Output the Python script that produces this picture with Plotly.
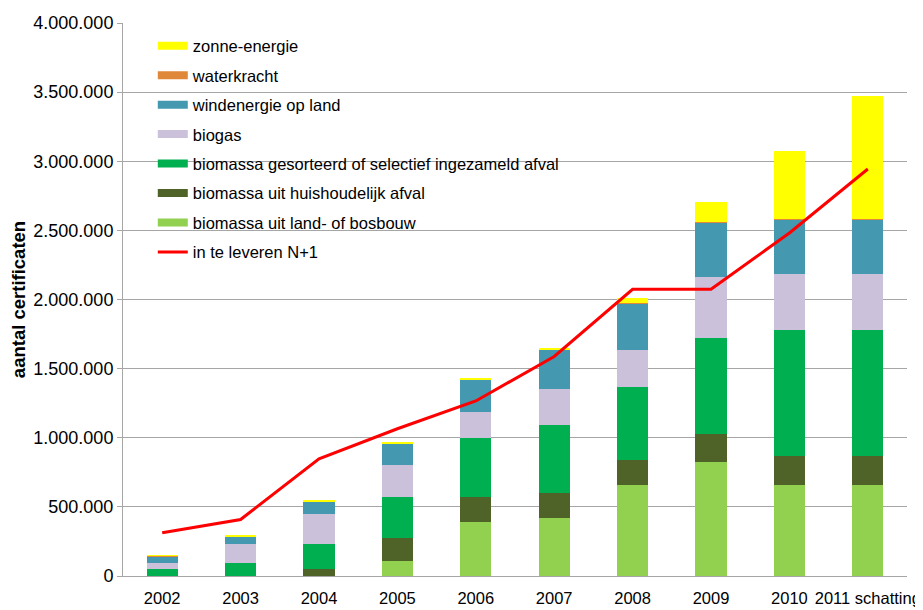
import plotly.graph_objects as go

_FONT = "Liberation Sans, Arial, sans-serif"
_GRID = "#A6A6A6"

years = ["2002", "2003", "2004", "2005", "2006", "2007", "2008", "2009", "2010",
         "2011 schatting"]

land_bosbouw = [0, 0, 0, 111000, 388000, 417000, 656000, 826000, 657000, 657000]
huishoudelijk = [0, 0, 48000, 161000, 183000, 187000, 182000, 199000, 209000, 209000]
gesorteerd = [48000, 91000, 181000, 298000, 426000, 489000, 527000, 696000, 913000, 913000]
biogas = [48000, 138000, 216000, 236000, 187000, 257000, 272000, 445000, 404000, 404000]
wind = [48000, 57000, 96000, 154000, 236000, 289000, 337000, 390000, 397000, 397000]
waterkracht = [1000, 1000, 1000, 1000, 1000, 1000, 2000, 2000, 5000, 5000]
zon = [5000, 4000, 6000, 7000, 6000, 4000, 34000, 145000, 486000, 888000]
te_leveren = [313000, 409000, 848000, 1065000, 1266000, 1588000, 2074000, 2074000,
              2481000, 2944000]

# stacking order, bottom first
series = [
    ("biomassa uit land- of bosbouw", land_bosbouw, "#92D050"),
    ("biomassa uit huishoudelijk afval", huishoudelijk, "#4F6228"),
    ("biomassa gesorteerd of selectief ingezameld afval", gesorteerd, "#00B050"),
    ("biogas", biogas, "#CCC1DA"),
    ("windenergie op land", wind, "#4498B0"),
    ("waterkracht", waterkracht, "#E0883A"),
    ("zonne-energie", zon, "#FFFF00"),
]

fig = go.Figure()

for name, vals, color in series:
    fig.add_trace(go.Bar(
        x=years, y=vals, name=name, marker=dict(color=color, line=dict(width=0)),
        showlegend=False,
    ))

# legend entries as wide colour swatches, top to bottom
for i, (name, vals, color) in enumerate(reversed(series)):
    fig.add_trace(go.Scatter(
        x=[None], y=[None], mode="lines", name=name, legendgroup=f"g{i}",
        line=dict(color=color, width=8),
    ))

fig.add_trace(go.Scatter(
    x=years, y=te_leveren, mode="lines", name="in te leveren N+1", legendgroup="g9",
    line=dict(color="#FF0000", width=3),
))

fig.update_xaxes(
    type="category",
    tickangle=0,
    showline=True, linecolor=_GRID, linewidth=1,
    ticks="", ticklabelstandoff=7,
    tickfont=dict(size=16.5, color="#000000"),
    showgrid=False,
)
fig.update_yaxes(
    range=[0, 4000000], dtick=500000, tickformat=",d",
    showgrid=True, gridcolor=_GRID, gridwidth=1,
    showline=True, linecolor=_GRID, linewidth=1,
    ticks="outside", ticklen=5, tickcolor=_GRID,
    tickfont=dict(size=18, color="#000000"),
    zeroline=False,
    title=dict(text="<b>aantal certificaten</b>", font=dict(size=18.5, color="#000000"),
               standoff=4),
)

# the page body adds 8px around the figure
fig.update_layout(
    width=915, height=602,
    separators=",.",
    barmode="stack", bargap=0.6,
    paper_bgcolor="white", plot_bgcolor="white",
    font=dict(family=_FONT, size=16.5, color="#000000"),
    margin=dict(l=115, r=16, t=15, b=34, autoexpand=False),
    showlegend=True,
    legend=dict(
        x=0.038, y=0.99, xanchor="left", yanchor="top",
        bgcolor="rgba(255,255,255,0)", borderwidth=0,
        traceorder="grouped", tracegroupgap=5, itemwidth=30,
        font=dict(size=16.5, color="#000000"),
    ),
)

fig.write_html("out.html")
